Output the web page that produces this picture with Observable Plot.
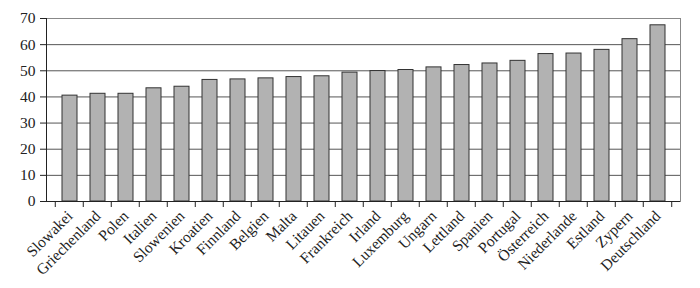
<!DOCTYPE html>
<html>
<head>
<meta charset="utf-8">
<script src="https://cdn.jsdelivr.net/npm/d3@7"></script>
<script src="https://cdn.jsdelivr.net/npm/@observablehq/plot@0.6"></script>
<style>
  html, body { margin: 0; padding: 0; background: #fff; }
</style>
</head>
<body>
<div id="chart"></div>
<script>
const countries = ["Slowakei","Griechenland","Polen","Italien","Slowenien","Kroatien","Finnland","Belgien","Malta","Litauen","Frankreich","Irland","Luxemburg","Ungarn","Lettland","Spanien","Portugal","Österreich","Niederlande","Estland","Zypern","Deutschland"];
const values = [40.5,41.2,41.2,43.3,43.9,46.5,46.7,47.1,47.6,47.9,49.3,49.9,50.3,51.3,52.2,52.8,53.8,56.4,56.6,58.0,62.1,67.4];
const yTicks = [0,10,20,30,40,50,60,70];

const data = countries.map((c, i) => ({country: c, value: values[i]}));
const padInner = 0.48;

// boundary tick marks between categories (computed from the band scale)
function boundaryTicks(index, scales, values, dimensions) {
  const x = scales.x;
  const step = typeof x.step === "function" ? x.step() : x.step;
  const bw = typeof x.bandwidth === "function" ? x.bandwidth() : x.bandwidth;
  const y0 = scales.y(0);
  const g = d3.create("svg:g").attr("stroke", "#222").attr("stroke-width", 1);
  const pos = countries.map(c => x(c) - step * padInner / 2);
  pos.push(x(countries[countries.length - 1]) + bw + step * padInner / 2);
  for (const p of pos) {
    g.append("line").attr("x1", p).attr("x2", p).attr("y1", y0).attr("y2", y0 + 6);
  }
  return g.node();
}

const chart = Plot.plot({
  width: 700,
  height: 288,
  marginLeft: 46,
  marginRight: 20,
  marginTop: 18,
  marginBottom: 87,
  style: {fontFamily: "Liberation Serif", fontSize: "15.5px", color: "#222", background: "#fff"},
  x: {domain: countries, paddingInner: padInner, paddingOuter: padInner / 2, label: null},
  y: {domain: [0, 70], label: null},
  marks: [
    Plot.gridY(yTicks, {stroke: "#555", strokeOpacity: 1}),
    Plot.frame({stroke: "#888"}),
    Plot.barY(data, {x: "country", y: "value", fill: "#b2b2b2", stroke: "#333", strokeWidth: 1}),
    Plot.frame({anchor: "left", stroke: "#222"}),
    Plot.ruleY([0], {stroke: "#222"}),
    Plot.axisY(yTicks, {tickSize: 6, tickPadding: 5, stroke: "#222", fill: "#222"}),
    Plot.axisX({tickSize: 0, tickRotate: -45, tickPadding: 12, fill: "#222"}),
    boundaryTicks
  ]
});
document.getElementById("chart").appendChild(chart);
</script>
</body>
</html>
